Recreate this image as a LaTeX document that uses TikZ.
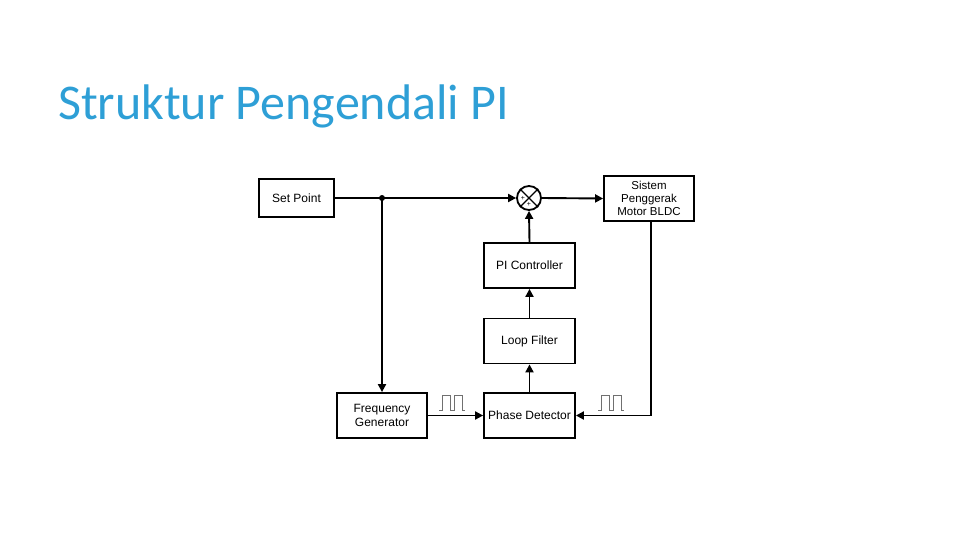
\documentclass[tikz,border=0pt]{standalone}
\usepackage{fontspec}
\setmainfont{Liberation Sans}
\newfontfamily\titlefont{Carlito}
\usetikzlibrary{arrows.meta}
\definecolor{titleblue}{HTML}{2E9FD6}
\definecolor{pulsegray}{HTML}{707070}
\begin{document}
\begin{tikzpicture}[x=1pt,y=-1pt,
  blk/.style={draw, line width=1.8pt, minimum width=91pt, minimum height=45pt, align=center, font=\fontsize{12}{14}\selectfont, inner sep=1pt},
  conn/.style={line width=1.9pt, -{Triangle[length=8pt,width=8pt]}},
  wire/.style={line width=1.9pt},
  pulse/.style={draw=pulsegray, line width=1pt}]
\useasboundingbox (0,0) rectangle (960,540);
\node[anchor=base west, text=titleblue, font=\titlefont\fontsize{50}{52}\selectfont, inner sep=0] (title) at (58,120) {Struktur Pengendali PI};

\node[blk, minimum width=75pt, minimum height=38pt] (sp) at (296.5,198) {Set Point};
\node[blk, minimum width=90pt, minimum height=45pt, font=\fontsize{11.5}{13}\selectfont] (sys) at (649,198.5) {Sistem\\Penggerak\\Motor BLDC};
\node[blk] (pi) at (529.5,265.5) {PI Controller};
\node[blk] (lf) at (529.5,341) {Loop Filter};
\node[blk] (pd) at (529.5,415.5) {Phase Detector};
\node[blk, minimum width=90pt] (fg) at (382,415.5) {Frequency\\Generator};
\node[draw, circle, line width=1.8pt, minimum size=24pt, inner sep=0] (sum) at (529,198) {};
\draw[line width=1.4pt] (sum.north west) -- (sum.south east) (sum.north east) -- (sum.south west);
\node[font=\fontsize{7}{7}\selectfont, inner sep=0] (plusl) at ([xshift=-6pt]sum.center) {+};
\node[font=\fontsize{7}{7}\selectfont, inner sep=0] (plusb) at ([yshift=-6pt]sum.center) {+};

\coordinate (jn) at (382,198);
\fill (jn) circle (3pt);
\draw[wire] (sp.east) -- (jn);
\draw[conn] (jn) -- (sum.west);
\draw[conn] (jn) -- (fg.north);
\draw[conn] (sum.east) -- (sys.west);
\draw[conn] (pi.north) -- (sum.south);
\draw[conn] (lf.north) -- (pi.south);
\draw[conn] (pd.north) -- (lf.south);
\draw[conn] (fg.east) -- (pd.west);
\coordinate (rc) at (651,415.5);
\draw[conn] (sys.south -| rc) -- (rc) -- (pd.east);

\coordinate (p1) at (439,410);
\draw[pulse] (p1) -- ++(3,0) -- ++(0,-15) -- ++(8,0) -- ++(0,15) -- ++(4,0) -- ++(0,-15) -- ++(8,0) -- ++(0,15) -- ++(3,0);
\coordinate (p2) at (598,410);
\draw[pulse] (p2) -- ++(3,0) -- ++(0,-15) -- ++(8,0) -- ++(0,15) -- ++(4,0) -- ++(0,-15) -- ++(8,0) -- ++(0,15) -- ++(3,0);
\end{tikzpicture}
\end{document}
